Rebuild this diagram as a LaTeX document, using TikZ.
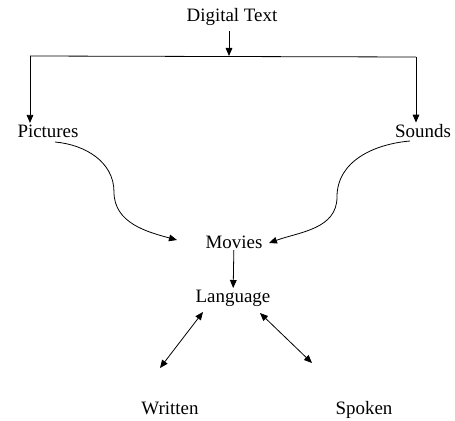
\documentclass[tikz,border=0pt]{standalone}
\usepackage{fontspec}
\setmainfont{Liberation Serif}
\usetikzlibrary{arrows.meta}

\begin{document}
\begin{tikzpicture}[>={Triangle[length=6pt,width=5pt]}, x=0.75pt, y=-0.75pt, line width=0.6pt]
  \useasboundingbox (0,0) rectangle (455,421);
  \tikzset{word/.style={inner sep=1pt, align=center, text=black, font=\fontsize{14.2}{16}\selectfont}}
  \node[word] (digital) at (232,17) {Digital Text};
  \node[word] (pict) at (48,131) {Pictures};
  \node[word] (sounds) at (423,131) {Sounds};
  \node[word] (movies) at (234,242) {Movies};
  \node[word] (lang) at (233,298) {Language};
  \node[word, anchor=base] (written) at (170,415) {Written};
  \node[word, anchor=base] (spoken) at (364,415) {Spoken};
  \coordinate (barL) at (30,56);
  \coordinate (barM) at (229,56);
  \coordinate (barR) at (416,57);
  \coordinate (pictEnd) at (55,142);
  \coordinate (pictBend) at (114,192);
  \coordinate (pictTip) at (177,240);
  \coordinate (soundsEnd) at (410,141);
  \coordinate (soundsBend) at (337,197);
  \coordinate (soundsTip) at (269,243);
  \coordinate (langL) at (203,312);
  \coordinate (langR) at (260,313);
  \coordinate (writtenTip) at (160,368);
  \coordinate (spokenTip) at (312,363);
  \draw (barL) -- (barR);
  \draw[->] (digital.south -| barM) ++(0,4) -- (barM);
  \draw[->] (barL) -- (barL |- pict.north);
  \draw[->] (barR) -- (barR |- sounds.north);
  \draw[->] (pictEnd) to[out=-5,in=90] (pictBend) to[out=-90,in=165] (pictTip);
  \draw[->] (soundsEnd) to[out=185,in=90] (soundsBend) to[out=-90,in=20] (soundsTip);
  \draw[->] (movies) -- (lang);
  \draw[<->] (langL) -- (writtenTip);
  \draw[<->] (langR) -- (spokenTip);
\end{tikzpicture}
\end{document}
